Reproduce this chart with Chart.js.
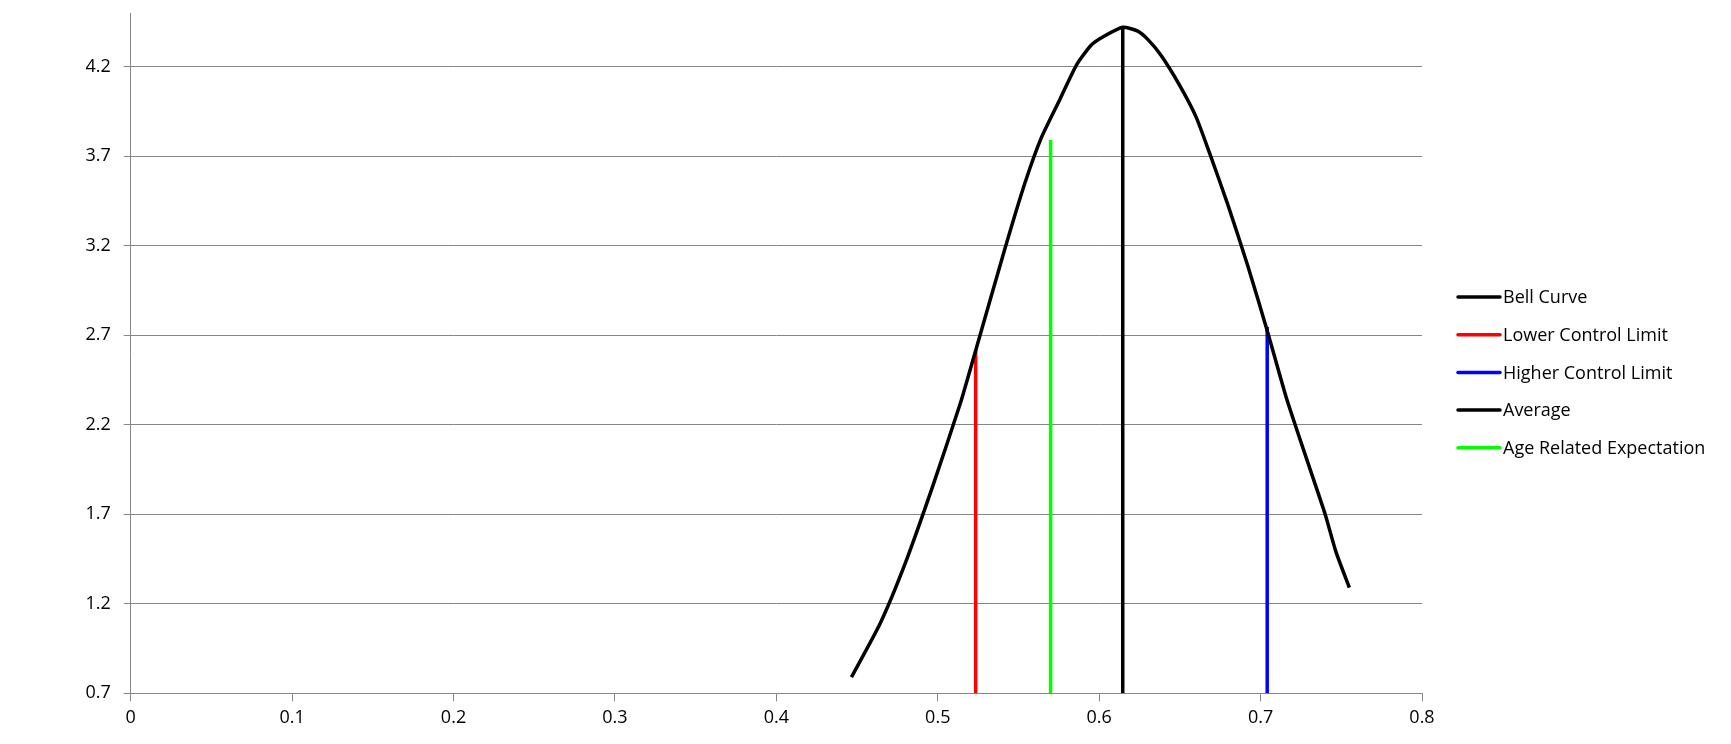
<!DOCTYPE html>
<html>
<head>
<meta charset="utf-8">
<script src="https://cdn.jsdelivr.net/npm/chart.js@4.4.1/dist/chart.umd.min.js"></script>
<style>
    html, body { margin: 0; padding: 0; background: #fff; }
    #wrap { width: 1731px; height: 744px; position: relative; }
</style>
</head>
<body>
<div id="wrap"><canvas id="bellChart"></canvas></div>
<script>
// ==================== DATA ====================
const curveX = [0.4465, 0.4643, 0.480, 0.497, 0.514, 0.523, 0.5415, 0.554, 0.564, 0.5758, 0.586, 0.595, 0.603, 0.6147,
    0.6236, 0.6304, 0.6386, 0.6496, 0.660, 0.6687, 0.6797, 0.692, 0.7043, 0.716, 0.7296, 0.740, 0.7467, 0.755];
const curveY = [0.79, 1.09, 1.43, 1.86, 2.32, 2.60, 3.18, 3.55, 3.80, 4.02, 4.21, 4.32, 4.37, 4.42,
    4.40, 4.35, 4.26, 4.10, 3.92, 3.71, 3.43, 3.09, 2.72, 2.35, 1.98, 1.70, 1.49, 1.29];

const markerNames = ['Lower Control Limit', 'Higher Control Limit', 'Average', 'Age Related Expectation'];
const markerX = [0.5235, 0.7041, 0.6146, 0.5699];
const markerTop = [2.616, 2.746, 4.424, 3.79];
const markerColors = ['#ff0000', '#0000ff', '#000000', '#00ff00'];

const yTicks = [0.7, 1.2, 1.7, 2.2, 2.7, 3.2, 3.7, 4.2];
const xTicks = [0, 0.1, 0.2, 0.3, 0.4, 0.5, 0.6, 0.7, 0.8];
const yMin = 0.7, yMax = 4.5;

const FONT = '"Open Sans", "Noto Sans", sans-serif';

// ==================== DATASETS ====================
const datasets = [{
    label: 'Bell Curve',
    data: curveX.map((x, i) => ({ x, y: curveY[i] })),
    borderColor: '#000000',
    borderWidth: 3.5,
    showLine: true,
    pointRadius: 0,
    tension: 0.2
}];

markerNames.forEach((name, i) => {
    datasets.push({
        label: name,
        data: [{ x: markerX[i], y: yMin }, { x: markerX[i], y: markerTop[i] }],
        borderColor: markerColors[i],
        borderWidth: 3.5,
        showLine: true,
        pointRadius: 0,
        tension: 0
    });
});

// Legend drawn by hand on the right, like the original
const sideLegend = {
    id: 'sideLegend',
    afterDraw(chart) {
        const ctx = chart.ctx;
        const startY = 297, step = 37.7;
        ctx.save();
        ctx.font = '18px ' + FONT;
        ctx.textBaseline = 'middle';
        chart.data.datasets.forEach((ds, i) => {
            const y = startY + i * step;
            ctx.strokeStyle = ds.borderColor;
            ctx.lineWidth = 3.5;
            ctx.lineCap = 'round';
            ctx.beginPath();
            ctx.moveTo(1458, y);
            ctx.lineTo(1500, y);
            ctx.stroke();
            ctx.fillStyle = '#000';
            ctx.fillText(ds.label, 1503, y + 1);
        });
        ctx.restore();
    }
};

new Chart(document.getElementById('bellChart'), {
    type: 'scatter',
    data: { datasets },
    plugins: [sideLegend],
    options: {
        responsive: true,
        maintainAspectRatio: false,
        animation: false,
        layout: { padding: { left: 0, right: 309, top: 13, bottom: 0 } },
        plugins: { legend: { display: false }, tooltip: { enabled: false } },
        scales: {
            x: {
                type: 'linear',
                min: 0,
                max: 0.8,
                afterFit: (s) => { s.height = 50.7; s.paddingLeft = 0; s.paddingRight = 0; },
                afterBuildTicks: (s) => { s.ticks = xTicks.map(v => ({ value: v })); },
                grid: { drawOnChartArea: false, drawTicks: true, tickLength: 8, color: '#868686' },
                border: { color: '#868686', width: 1 },
                ticks: {
                    color: '#000',
                    padding: 6,
                    maxRotation: 0,
                    font: { family: FONT, size: 18 },
                    callback: (v) => String(Math.round(v * 10) / 10)
                }
            },
            y: {
                type: 'linear',
                min: yMin,
                max: yMax,
                afterFit: (s) => { s.width = 130.7; s.paddingTop = 0; s.paddingBottom = 0; },
                afterBuildTicks: (s) => { s.ticks = yTicks.map(v => ({ value: v })); },
                grid: { drawTicks: true, tickLength: 7, color: '#868686' },
                border: { color: '#868686', width: 1 },
                ticks: {
                    color: '#000',
                    padding: 13,
                    font: { family: FONT, size: 18 },
                    callback: (v) => (Math.round(v * 10) / 10).toFixed(1)
                }
            }
        }
    }
});
</script>
</body>
</html>
